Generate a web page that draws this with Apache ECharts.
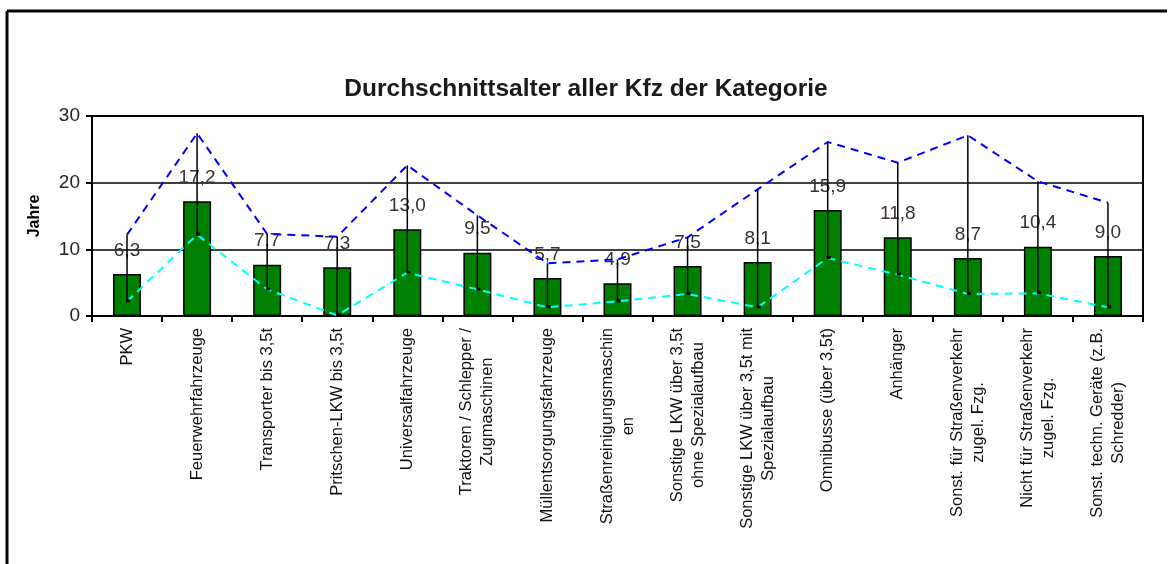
<!DOCTYPE html>
<html>
<head>
<meta charset="utf-8">
<script src="https://cdn.jsdelivr.net/npm/echarts@6/dist/echarts.min.js"></script>
<style>
  html, body { margin: 0; padding: 0; background: #fff; }
  #chart { width: 1172px; height: 564px; }
</style>
</head>
<body>
<div id="chart"></div>
<script>
  // Kategorien
  var categories = [
    'PKW',
    'Feuerwehrfahrzeuge',
    'Transporter bis 3,5t',
    'Pritschen-LKW bis 3,5t',
    'Universalfahrzeuge',
    'Traktoren / Schlepper /\nZugmaschinen',
    'Müllentsorgungsfahrzeuge',
    'Straßenreinigungsmaschin\nen',
    'Sonstige LKW über 3,5t\nohne Spezialaufbau',
    'Sonstige LKW über 3,5t mit\nSpezialaufbau',
    'Omnibusse (über 3,5t)',
    'Anhänger',
    'Sonst. für Straßenverkehr\nzugel. Fzg.',
    'Nicht für Straßenverkehr\nzugel. Fzg.',
    'Sonst. techn. Geräte (z.B.\nSchredder)'
  ]
  // Durchschnittsalter
  var avgAge = [6.3, 17.2, 7.7, 7.3, 13.0, 9.5, 5.7, 4.9, 7.5, 8.1, 15.9, 11.8, 8.7, 10.4, 9.0]
  // Maximum / Minimum (geschaetzt)
  var maxAge = [12.2, 27.4, 12.3, 11.9, 22.6, 15.1, 7.9, 8.5, 11.8, 19.0, 26.1, 23.0, 27.1, 20.2, 17.0]
  var minAge = [2.2, 12.2, 4.0, 0.1, 6.5, 4.0, 1.3, 2.2, 3.3, 1.3, 8.7, 6.2, 3.3, 3.4, 1.3]
  var yTicks = [0, 10, 20, 30]

  var font = "'Liberation Sans', Arial, sans-serif"
  var chart = echarts.init(document.getElementById('chart'))

  var option = {
    animation: false,
    textStyle: { fontFamily: font },
    title: {
      text: 'Durchschnittsalter aller Kfz der Kategorie',
      left: 'center',
      top: 72,
      textStyle: { fontSize: 24.5, fontWeight: 'bold', color: '#1a1a1a', fontFamily: font }
    },
    graphic: [
      { type: 'line', shape: { x1: 7, y1: 11, x2: 1167, y2: 11 }, style: { stroke: '#000', lineWidth: 3 } },
      { type: 'line', shape: { x1: 7, y1: 11, x2: 7, y2: 564 }, style: { stroke: '#000', lineWidth: 3 } }
    ],
    grid: {
      left: 92,
      right: 29,
      top: 116,
      bottom: 248,
      show: true,
      borderColor: '#000',
      borderWidth: 2
    },
    xAxis: {
      type: 'category',
      data: categories,
      axisLine: { lineStyle: { color: '#000', width: 2 } },
      axisTick: { show: true, length: 6, lineStyle: { color: '#000', width: 2 } },
      axisLabel: {
        interval: 0,
        rotate: 90,
        margin: 12,
        color: '#111',
        fontSize: 16.5,
        lineHeight: 21,
        formatter: function (v) {
          return v.split('\n').map(function (s) { return '{a|' + s + '}' }).join('\n')
        },
        rich: {
          a: { align: 'center', fontSize: 16.5, lineHeight: 21, color: '#111', fontFamily: font }
        }
      }
    },
    yAxis: {
      type: 'value',
      min: yTicks[0],
      max: yTicks[yTicks.length - 1],
      interval: 10,
      name: 'Jahre',
      nameLocation: 'middle',
      nameRotate: 90,
      nameGap: 49,
      nameTextStyle: { fontSize: 16, fontWeight: 'bold', color: '#000', fontFamily: font },
      axisLine: { show: true, lineStyle: { color: '#000', width: 2 } },
      axisTick: { show: true, length: 6, lineStyle: { color: '#000', width: 2 } },
      axisLabel: { fontSize: 19, color: '#222', margin: 12 },
      splitLine: { lineStyle: { color: '#000', width: 1.5 } }
    },
    series: [
      {
        name: 'Durchschnitt',
        type: 'bar',
        data: avgAge,
        barWidth: 28,
        itemStyle: { color: '#008000', borderColor: '#000', borderWidth: 1.5 },
        label: {
          show: true,
          position: 'top',
          distance: 14,
          fontSize: 19,
          color: '#3a3030',
          formatter: function (p) { return p.value.toFixed(1).replace('.', ',') }
        },
        z: 2
      },
      {
        name: 'Max',
        type: 'line',
        data: maxAge,
        symbol: 'none',
        lineStyle: { color: '#0000ff', width: 2, type: [8, 6] },
        z: 4
      },
      {
        name: 'Min',
        type: 'line',
        data: minAge,
        symbol: 'none',
        lineStyle: { color: '#00ffff', width: 2, type: [8, 6] },
        z: 4
      },
      {
        name: 'HiLo',
        type: 'custom',
        data: categories.map(function (c, i) { return [i, maxAge[i], minAge[i]] }),
        renderItem: function (params, api) {
          var top = api.coord([api.value(0), api.value(1)])
          var bot = api.coord([api.value(0), api.value(2)])
          return {
            type: 'group',
            children: [
              { type: 'line', shape: { x1: top[0], y1: top[1], x2: bot[0], y2: bot[1] }, style: { stroke: '#000', lineWidth: 1.5 } },
              { type: 'rect', shape: { x: bot[0] - 1, y: bot[1] - 2, width: 4, height: 3 }, style: { fill: '#000' } }
            ]
          }
        },
        z: 5
      }
    ]
  }

  chart.setOption(option)
</script>
</body>
</html>
